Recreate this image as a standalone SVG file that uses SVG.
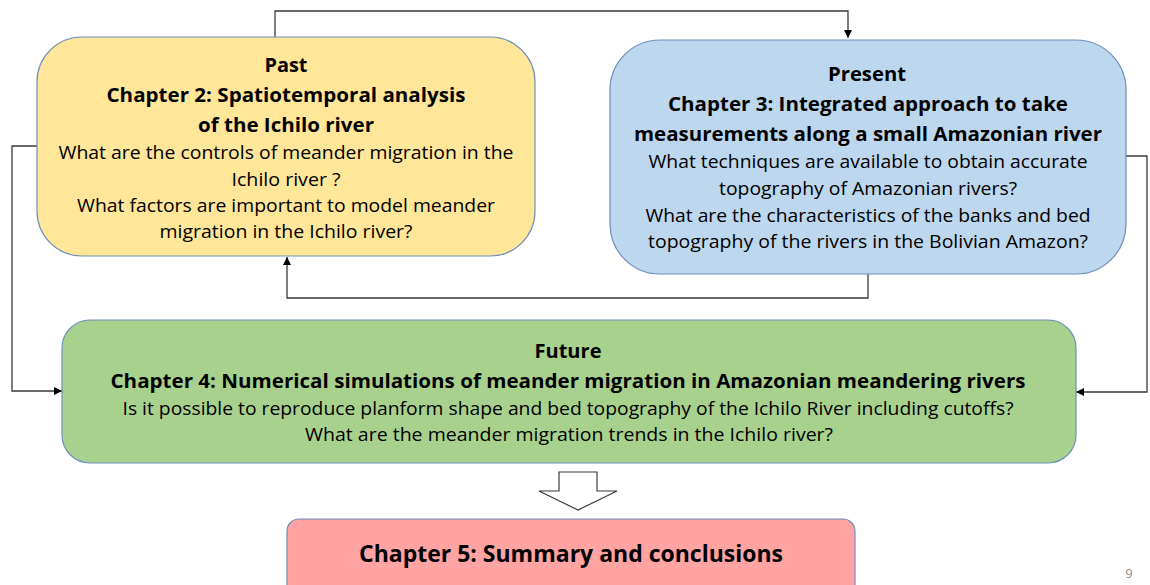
<svg xmlns="http://www.w3.org/2000/svg" width="1150" height="585" viewBox="0 0 1150 585">
<defs>
<marker id="ah" viewBox="0 0 10 10" refX="10" refY="5" markerWidth="8" markerHeight="8" markerUnits="userSpaceOnUse" orient="auto">
<path d="M0,0 L10,5 L0,10 Z" fill="#000"/>
</marker>
<style>
.box{stroke:#6E8FBA;stroke-width:1.2}
.t{font-family:"Open Sans","Noto Sans","Liberation Sans",sans-serif;text-anchor:middle;fill:#000}
.b{font-weight:bold;font-size:20px}
.r{font-size:18px}
.c{fill:none;stroke:#3a3a3a;stroke-width:1.3}
</style>
</defs>
<rect width="1150" height="585" fill="#fff"/>
<g id="connectors">
<path class="c" d="M275,37 V11 H848 V38" marker-end="url(#ah)"/>
<path class="c" d="M868,274 V298 H287 V257" marker-end="url(#ah)"/>
<path class="c" d="M37,146 H12 V391 H62" marker-end="url(#ah)"/>
<path class="c" d="M1126,156 H1147 V392 H1076" marker-end="url(#ah)"/>
<path d="M559,472 H597 V491 H617 L578,510 L539,491 H559 Z" fill="#fff" stroke="#3a3a3a" stroke-width="1.2"/>
</g>
<g id="past">
<rect class="box" x="37" y="37" width="498" height="219" rx="45" fill="#FFE699"/>
<text class="t b" x="286" y="72" textLength="43" lengthAdjust="spacingAndGlyphs">Past</text>
<text class="t b" x="286" y="102" textLength="359" lengthAdjust="spacingAndGlyphs">Chapter 2: Spatiotemporal analysis</text>
<text class="t b" x="286" y="132" textLength="176" lengthAdjust="spacingAndGlyphs">of the Ichilo river</text>
<text class="t r" x="286" y="159" textLength="455" lengthAdjust="spacingAndGlyphs">What are the controls of meander migration in the</text>
<text class="t r" x="286" y="186" textLength="109" lengthAdjust="spacingAndGlyphs">Ichilo river ?</text>
<text class="t r" x="286" y="212" textLength="418" lengthAdjust="spacingAndGlyphs">What factors are important to model meander</text>
<text class="t r" x="286" y="238" textLength="253" lengthAdjust="spacingAndGlyphs">migration in the Ichilo river?</text>
</g>
<g id="present">
<rect class="box" x="610" y="40" width="516" height="234" rx="50" fill="#BDD7EE"/>
<text class="t b" x="867" y="81" textLength="78" lengthAdjust="spacingAndGlyphs">Present</text>
<text class="t b" x="868" y="111" textLength="400" lengthAdjust="spacingAndGlyphs">Chapter 3: Integrated approach to take</text>
<text class="t b" x="868" y="141" textLength="468" lengthAdjust="spacingAndGlyphs">measurements along a small Amazonian river</text>
<text class="t r" x="868" y="168" textLength="439" lengthAdjust="spacingAndGlyphs">What techniques are available to obtain accurate</text>
<text class="t r" x="868" y="195" textLength="298" lengthAdjust="spacingAndGlyphs">topography of Amazonian rivers?</text>
<text class="t r" x="868" y="222" textLength="445" lengthAdjust="spacingAndGlyphs">What are the characteristics of the banks and bed</text>
<text class="t r" x="868" y="248" textLength="440" lengthAdjust="spacingAndGlyphs">topography of the rivers in the Bolivian Amazon?</text>
</g>
<g id="future">
<rect class="box" x="62" y="320" width="1014" height="143" rx="28" fill="#A9D18E"/>
<text class="t b" x="568" y="358" textLength="67" lengthAdjust="spacingAndGlyphs">Future</text>
<text class="t b" x="568" y="388" textLength="915" lengthAdjust="spacingAndGlyphs">Chapter 4: Numerical simulations of meander migration in Amazonian meandering rivers</text>
<text class="t r" x="568" y="415" textLength="891" lengthAdjust="spacingAndGlyphs">Is it possible to reproduce planform shape and bed topography of the Ichilo River including cutoffs?</text>
<text class="t r" x="569" y="441" textLength="528" lengthAdjust="spacingAndGlyphs">What are the meander migration trends in the Ichilo river?</text>
</g>
<g id="chapter5">
<rect class="box" x="287" y="519" width="568" height="80" rx="12" fill="#FFA3A3"/>
<text class="t" x="571" y="562" font-weight="bold" font-size="23" textLength="424" lengthAdjust="spacingAndGlyphs">Chapter 5: Summary and conclusions</text>
</g>
<text x="1129" y="578" font-family="'Open Sans','Liberation Sans',sans-serif" font-size="13" fill="#8c8c8c" text-anchor="middle">9</text>
</svg>
